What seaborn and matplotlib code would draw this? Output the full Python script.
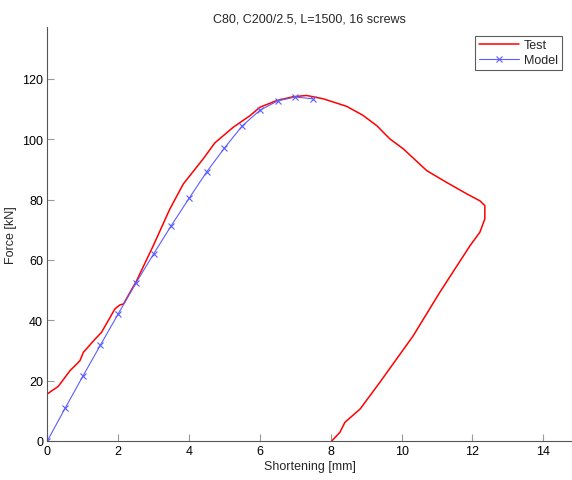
import numpy as np
import pandas as pd
import seaborn as sns
import matplotlib.pyplot as plt

# test curve (loading + unloading)
test_x = [0, 0.31, 0.64, 0.83, 0.92, 1.02, 1.35, 1.53, 1.91, 2.05, 2.15, 2.52, 2.99, 3.46,
          3.84, 4.4, 4.73, 5.25, 5.72, 6.0, 6.47, 6.94, 7.32, 7.79, 8.45, 8.9, 9.3, 9.67,
          10.05, 10.71, 11.27, 11.84, 12.21, 12.35, 12.35, 12.21, 11.93, 11.08, 10.33, 9.39,
          8.83, 8.4, 8.26, 8.03]
test_y = [15.6, 18.1, 23.3, 25.5, 26.6, 29.4, 33.8, 36.0, 43.8, 45.1, 45.4, 53.1, 64.7, 76.9,
          85.2, 93.5, 98.8, 104.0, 107.8, 110.6, 112.8, 114.1, 114.5, 113.4, 110.9, 108.0,
          104.5, 100.1, 96.8, 89.6, 85.7, 81.9, 79.6, 78.0, 73.6, 69.2, 64.7, 49.3, 34.9,
          19.5, 10.6, 6.2, 2.9, 0.0]

# model points
model_x = [0, 0.5, 1, 1.5, 2, 2.5, 3, 3.5, 4, 4.5, 5, 5.5, 6, 6.5, 7, 7.5]
model_y = [0, 10.8, 21.4, 31.8, 42.1, 52.3, 62.0, 71.4, 80.4, 89.2, 97.1, 104.4, 109.6,
           112.7, 114.0, 113.4]

x_ticks = [0, 2, 4, 6, 8, 10, 12, 14]
y_ticks = [0, 20, 40, 60, 80, 100, 120]

sns.set_style('ticks')
plt.rcParams['font.family'] = ['Liberation Sans', 'DejaVu Sans']

fig = plt.figure(figsize=(5.72, 4.81), dpi=100)
ax = fig.add_axes([47.3 / 572, 39 / 481, 1 - 47.3 / 572, (442 - 28.3) / 481])

sns.lineplot(x=test_x, y=test_y, sort=False, estimator=None, color='#ff0000',
             linewidth=1.1, label='Test', ax=ax)
sns.lineplot(x=model_x, y=model_y, sort=False, estimator=None, color='#5c5cff',
             linewidth=0.8, marker='x', markersize=5, markeredgewidth=0.8,
             markeredgecolor='#5c5cff', label='Model', ax=ax)

ax.set_xlim(0, 14.81)
ax.set_ylim(0, 137.1)
ax.set_xticks(x_ticks)
ax.set_yticks(y_ticks)
ax.tick_params(direction='in', length=5, width=0.8, color='#999999',
               labelsize=9, labelcolor='black', pad=3)
for s in ['top', 'right']:
    ax.spines[s].set_visible(False)
for s in ['left', 'bottom']:
    ax.spines[s].set_color('#555555')
    ax.spines[s].set_linewidth(0.8)

ax.set_xlabel('Shortening [mm]', fontsize=9, labelpad=2)
ax.set_ylabel('Force [kN]', fontsize=9, labelpad=4)
ax.set_title('C80, C200/2.5, L=1500, 16 screws', fontsize=9, pad=4)

leg = ax.legend(loc='upper right', bbox_to_anchor=(561.7 / 572, 1 - 36.7 / 481),
                bbox_transform=fig.transFigure, fontsize=9, frameon=True,
                fancybox=False, handlelength=3.2, borderpad=0.3, labelspacing=0.2,
                handletextpad=0.4, borderaxespad=0)
leg.get_frame().set_edgecolor('#333333')
leg.get_frame().set_linewidth(0.8)

fig.savefig('out.png', dpi=100)
